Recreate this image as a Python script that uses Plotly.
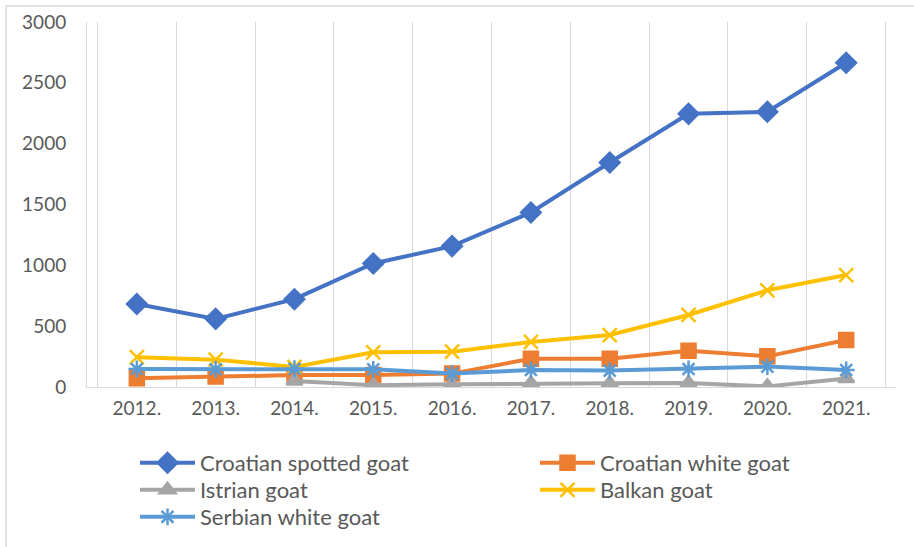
import plotly.graph_objects as go

years = ["2012.", "2013.", "2014.", "2015.", "2016.", "2017.", "2018.", "2019.", "2020.", "2021."]
croatian_spotted = [682, 560, 722, 1015, 1158, 1435, 1845, 2245, 2262, 2665]
croatian_white = [72, 86, 98, 99, 110, 232, 233, 298, 252, 386]
istrian = [None, None, 50, 15, 22, 30, 30, 32, 5, 70]
balkan = [245, 225, 165, 285, 290, 370, 427, 592, 795, 920]
serbian_white = [148, 146, 150, 145, 110, 140, 135, 148, 168, 140]

W, H = 914, 547
L, R, T, B = 87, 18, 22, 160
pw, ph = W - L - R, H - T - B

# name, values, colour, symbol, size, legend id, legend x (px), legend row centre (px)
series = [
    ("Croatian spotted goat", croatian_spotted, "#4472C4", "diamond", 15, "legend", 135, 463),
    ("Croatian white goat", croatian_white, "#ED7D31", "square", 14, "legend2", 535, 463),
    ("Istrian goat", istrian, "#A5A5A5", "triangle-up", 14, "legend3", 135, 490),
    ("Balkan goat", balkan, "#FFC000", "x-thin-open", 14, "legend4", 535, 490),
    ("Serbian white goat", serbian_white, "#5B9BD5", "asterisk-open", 14, "legend5", 135, 517),
]

def px_x(x):
    return (x - L) / pw

def px_y(y):
    return (H - B - y) / ph

fig = go.Figure()
legends = {}
for name, vals, color, sym, size, lg, lx, ly in series:
    fig.add_trace(go.Scatter(
        x=years, y=vals, name=name, mode="lines+markers",
        line=dict(color=color, width=4),
        marker=dict(symbol=sym, size=size, color=color,
                    line=dict(color=color, width=2.5)),
        connectgaps=False, legend=lg,
    ))
    legends[lg] = dict(
        orientation="v", xanchor="left", yanchor="top",
        x=px_x(lx), y=px_y(ly - 21),
        font=dict(size=22, color="#595959", family="Lato"),
        itemwidth=55, tracegroupgap=0, bgcolor="rgba(0,0,0,0)",
    )

fig.update_layout(
    width=W, height=H,
    margin=dict(l=L, r=R, t=T, b=B, autoexpand=False),
    paper_bgcolor="white", plot_bgcolor="white",
    font=dict(family="Lato", color="#595959", size=18),
    showlegend=True,
    xaxis=dict(
        type="category", tickson="boundaries", showgrid=True,
        gridcolor="#D9D9D9", gridwidth=1,
        showline=True, linecolor="#D9D9D9", linewidth=1,
        ticks="", tickfont=dict(size=19, color="#595959"),
        ticklabelstandoff=4, zeroline=False,
    ),
    yaxis=dict(
        range=[0, 3000], dtick=500, showgrid=False,
        showline=True, linecolor="#D9D9D9", linewidth=1,
        ticks="", tickfont=dict(size=19, color="#595959"),
        ticklabelstandoff=16, zeroline=False,
    ),
    shapes=[
        dict(type="line", xref="paper", yref="paper",
             x0=px_x(6), x1=px_x(914), y0=px_y(6), y1=px_y(6),
             line=dict(color="#D9D9D9", width=1.5)),
        dict(type="line", xref="paper", yref="paper",
             x0=px_x(6), x1=px_x(6), y0=px_y(6), y1=px_y(547),
             line=dict(color="#D9D9D9", width=1.5)),
    ],
    **legends,
)

fig.write_html("out.html")
